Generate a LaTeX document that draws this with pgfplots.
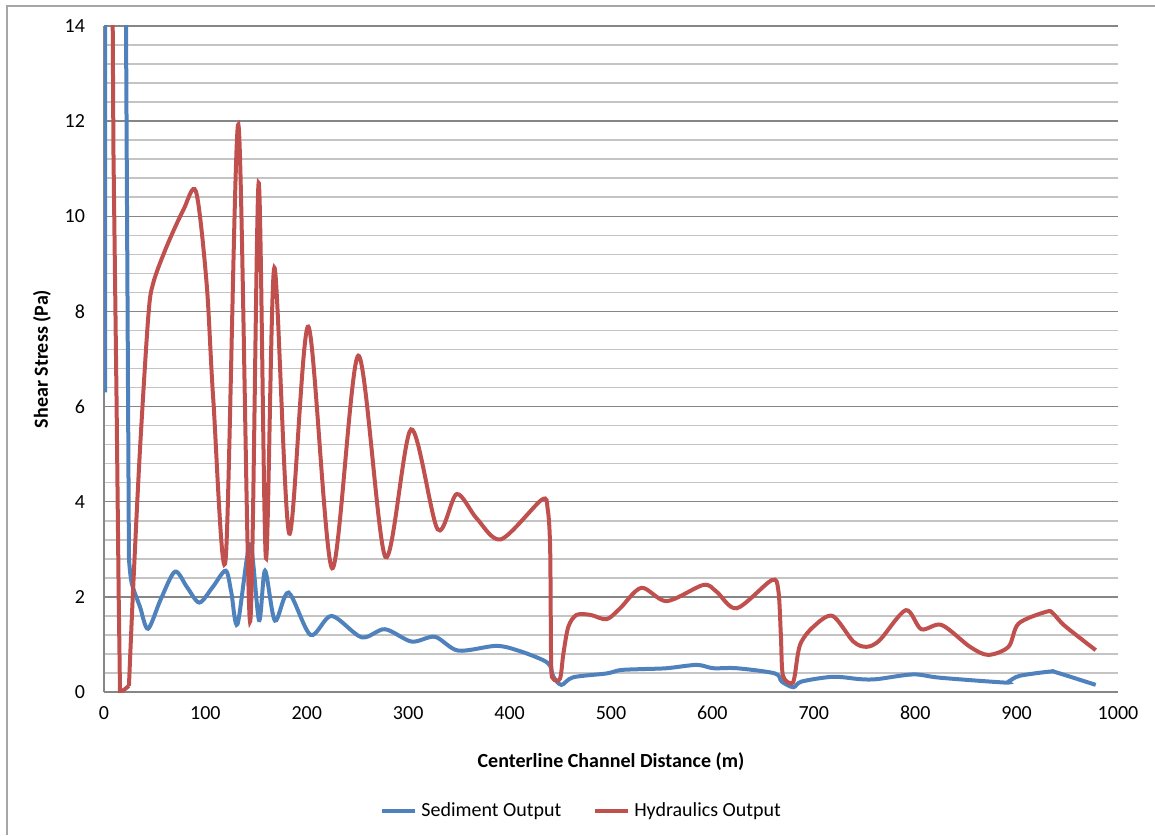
\documentclass[border=0pt]{standalone}
\usepackage{pgfplots}
\pgfplotsset{compat=1.18}
\usepackage{fontspec}
\setmainfont{Carlito}
\definecolor{sedblue}{HTML}{4F81BD}
\definecolor{hydred}{HTML}{C0504D}
\definecolor{majgrid}{HTML}{868686}
\definecolor{mingrid}{HTML}{C4C4C4}
\begin{document}
\begin{tikzpicture}
\useasboundingbox (0,0) rectangle (577.5pt,417.5pt);
\draw[color=black!35, line width=0.6pt] (3.5pt,0) -- (3.5pt,414.5pt) -- (577.5pt,414.5pt);
\begin{axis}[
  at={(52pt,71.5pt)}, anchor=south west, scale only axis,
  width=507pt, height=333pt,
  xmin=0, xmax=1000, ymin=0, ymax=14,
  xtick={0,100,...,1000}, ytick={0,2,...,14}, minor y tick num=4,
  ymajorgrids, yminorgrids,
  major grid style={majgrid, line width=0.7pt},
  minor grid style={mingrid, line width=0.8pt},
  axis x line*=bottom, axis y line*=left,
  axis line style={majgrid, line width=1pt, -},
  major tick length=0pt, minor tick length=0pt,
  tick label style={font=\fontsize{10}{12}\selectfont},
  /pgf/number format/assume math mode=true,
  /pgf/number format/1000 sep={},
  yticklabel style={xshift=-6pt},
  xticklabel style={yshift=-3.5pt},
  xlabel={Centerline Channel Distance (m)},
  ylabel={Shear Stress (Pa)},
  label style={font=\bfseries\fontsize{10}{12}\selectfont},
  x label style={at={(axis description cs:0.5,-0.105)}, anchor=center},
  y label style={at={(axis description cs:-0.0611,0.5)}, anchor=center},
  legend style={at={(axis description cs:0.472,-0.1787)}, anchor=center, draw=none,
    font=\fontsize{10}{12}\selectfont,
    /tikz/every even column/.append style={column sep=14pt}},
  legend columns=2,
  legend image code/.code={\draw[#1, line width=2pt] (0pt,0pt) -- (16.5pt,0pt);},
]
% Sediment output
\addplot[sedblue, line width=2pt, forget plot] coordinates {
 (1,6.3) (1.2,40) (15,40) (24.6,2.8)};
\addplot[sedblue, line width=2pt, smooth] coordinates {
 (24.6,2.8) (27.3,2.29) (35.5,1.79) (43.4,1.33) (56,1.95) (70,2.53) (82,2.2)
 (94,1.88) (107,2.2) (120,2.55) (125.5,2.1) (131.7,1.43) (144,3.09) (152.9,1.51)
 (158.8,2.55) (168.6,1.50) (182,2.09) (203.7,1.20) (224.4,1.60) (254,1.15)
 (277,1.32) (303.4,1.06) (326.4,1.16) (349.4,0.87) (387,0.97) (410,0.86)
 (433,0.67) (440,0.55) (443,0.33) (451,0.15) (462.8,0.31) (495.7,0.39)
 (509,0.46) (528.6,0.48) (555,0.50) (584.5,0.57) (600.8,0.50) (624,0.50)
 (661.7,0.39) (668.3,0.22) (679.8,0.10) (688,0.22) (719,0.32) (745.6,0.27)
 (762,0.27) (798,0.37) (824.5,0.30) (887,0.20) (892,0.22) (903,0.34)
 (933,0.43) (939.5,0.41) (978,0.15)};
\addlegendentry{Sediment Output}
% Hydraulics output
\addplot[hydred, line width=2pt, forget plot] coordinates {
 (6.5,40) (8.6,14) (9.3,11.4) (12.4,6.1) (14.5,2.0) (15.8,0) (20,0.05) (24.6,0.13)};
\addplot[hydred, line width=2pt, smooth] coordinates {
 (24.6,0.13) (29,2.3) (35.5,5.1) (43.7,7.9) (48.6,8.6) (61.7,9.36) (78.2,10.13)
 (90.7,10.52) (101.2,8.59) (107.8,6.14) (120,2.80) (132.5,11.93) (144,1.48)
 (152.5,10.7) (159.7,2.81) (168,8.92) (182.7,3.33) (201.5,7.68) (225,2.60)
 (250.8,7.07) (277.5,2.84) (302.8,5.52) (329,3.42) (347.8,4.16) (367.5,3.65)
 (391.5,3.21) (431.6,4.04) (437.5,3.85) (440,3.0) (441,0.6) (443,0.28)
 (449.7,0.28) (453,0.8) (457.9,1.37) (466,1.62) (480,1.62) (495.7,1.53)
 (509,1.76) (530,2.19) (554.9,1.91) (591,2.25) (604,2.11) (624,1.76)
 (658.4,2.35) (665,2.14) (667.5,1.2) (669.5,0.35) (678,0.18) (681,0.32)
 (686.4,0.99) (699.5,1.37) (718.4,1.60) (739,1.06) (752,0.95) (765,1.09)
 (790.7,1.72) (806,1.32) (826,1.41) (854,0.95) (872,0.78) (892,0.95)
 (902,1.44) (929.7,1.69) (936,1.65) (947.5,1.39) (978,0.88)};
\addlegendentry{Hydraulics Output}
\end{axis}
\end{tikzpicture}
\end{document}
